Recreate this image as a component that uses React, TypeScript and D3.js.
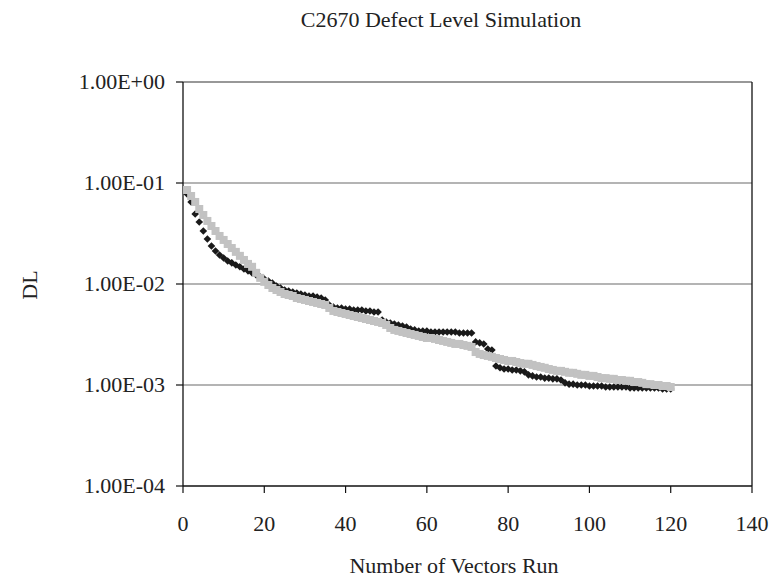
import React from "react";
import * as d3 from "d3";

const title = "C2670 Defect Level Simulation";
const xLabel = "Number of Vectors Run";
const yLabel = "DL";
const xTicks = [0, 20, 40, 60, 80, 100, 120, 140];
const yTicks = [1, 0.1, 0.01, 0.001, 0.0001];
const yTickLabels = ["1.00E+00", "1.00E-01", "1.00E-02", "1.00E-03", "1.00E-04"];

// Series 1 (black diamonds), vectors 1..120
const seriesBlack = [
  0.0778, 0.0649, 0.0493, 0.0411, 0.0335, 0.0279, 0.0238, 0.0212, 0.0194, 0.0181,
  0.0169, 0.0162, 0.0154, 0.0148, 0.0141, 0.0135, 0.0129, 0.0123, 0.0117, 0.0112,
  0.0107, 0.0102, 0.00955, 0.00913, 0.00872, 0.00853, 0.00833, 0.00815, 0.00796, 0.00778,
  0.00761, 0.00761, 0.00744, 0.00727, 0.00695, 0.0062, 0.00592, 0.00579, 0.00579, 0.00566,
  0.00566, 0.00553, 0.00553, 0.00553, 0.00541, 0.00541, 0.00528, 0.00528, 0.0044, 0.00421,
  0.00411, 0.00402, 0.00393, 0.00384, 0.00375, 0.00359, 0.00351, 0.00343, 0.00343, 0.00343,
  0.00335, 0.00335, 0.00335, 0.00335, 0.00335, 0.00335, 0.00335, 0.00327, 0.00327, 0.00327,
  0.00327, 0.00267, 0.00261, 0.00255, 0.00227, 0.00222, 0.00154, 0.00148, 0.00144, 0.00144,
  0.00141, 0.00141, 0.00138, 0.00135, 0.00126, 0.00123, 0.0012, 0.0012, 0.00117, 0.00117,
  0.00115, 0.00115, 0.00112, 0.00105, 0.00102, 0.00102, 0.001, 0.001, 0.001, 0.000978,
  0.000978, 0.000978, 0.000978, 0.000955, 0.000955, 0.000955, 0.000955, 0.000955, 0.000955, 0.000934,
  0.000934, 0.000934, 0.000934, 0.000934, 0.000934, 0.000934, 0.000934, 0.000913, 0.000913, 0.000913,
];

// Series 2 (grey squares), vectors 1..120
const seriesGrey = [
  0.0853, 0.0744, 0.0649, 0.0553, 0.0482, 0.0421, 0.0375, 0.0335, 0.0299, 0.0273,
  0.0249, 0.0227, 0.0208, 0.019, 0.0173, 0.0158, 0.0148, 0.0129, 0.0115, 0.0105,
  0.00978, 0.00913, 0.00872, 0.00833, 0.00796, 0.00778, 0.00761, 0.00727, 0.00711, 0.00695,
  0.00679, 0.00664, 0.00649, 0.00634, 0.0062, 0.00579, 0.00541, 0.00528, 0.00516, 0.00505,
  0.00493, 0.00482, 0.00471, 0.00461, 0.0045, 0.0044, 0.0043, 0.00421, 0.00411, 0.00393,
  0.00367, 0.00351, 0.00343, 0.00335, 0.00327, 0.0032, 0.00313, 0.00306, 0.00299, 0.00292,
  0.00292, 0.00286, 0.00279, 0.00273, 0.00267, 0.00261, 0.00255, 0.00255, 0.00249, 0.00244,
  0.00238, 0.00212, 0.00203, 0.00198, 0.00194, 0.0019, 0.00185, 0.00181, 0.00177, 0.00173,
  0.00173, 0.00169, 0.00165, 0.00162, 0.00162, 0.00158, 0.00154, 0.00151, 0.00148, 0.00144,
  0.00141, 0.00138, 0.00138, 0.00135, 0.00132, 0.00132, 0.00129, 0.00126, 0.00126, 0.00123,
  0.00123, 0.0012, 0.00117, 0.00117, 0.00115, 0.00115, 0.00112, 0.00112, 0.0011, 0.0011,
  0.00107, 0.00107, 0.00105, 0.00102, 0.00102, 0.001, 0.001, 0.000978, 0.000978, 0.000955,
];

const W = 773;
const H = 581;
const left = 183;
const right = 752;
const top = 82;
const bottom = 486;
const font = "'Liberation Serif', 'Times New Roman', Times, serif";
const diamondPath = "M0,-3.8L3.8,0L0,3.8L-3.8,0Z";

export default function App() {
  const x = d3.scaleLinear().domain([0, 140]).range([left, right]);
  const y = d3.scaleLog().domain([1e-4, 1]).range([bottom, top]);
  const square = d3.symbol().type(d3.symbolSquare).size(64)();

  return (
    <svg
      width={W}
      height={H}
      style={{ position: "absolute", left: 0, top: 0, background: "#fff" }}
      fontFamily={font}
    >
      <rect x={0} y={0} width={W} height={H} fill="#fff" />
      {/* gridlines */}
      {yTicks.slice(1, 4).map((t) => (
        <line key={t} x1={left} x2={right} y1={y(t)} y2={y(t)} stroke="#6a6a6a" strokeWidth={1.2} />
      ))}
      <line x1={left} x2={right} y1={y(1)} y2={y(1)} stroke="#333" strokeWidth={1.2} />
      <line x1={right} x2={right} y1={top} y2={bottom} stroke="#111" strokeWidth={1.3} />
      {/* axes */}
      <line x1={left} x2={left} y1={top} y2={bottom} stroke="#111" strokeWidth={1.3} />
      <line x1={left} x2={right} y1={bottom} y2={bottom} stroke="#111" strokeWidth={1.3} />
      {yTicks.map((t, i) => (
        <g key={t}>
          <line x1={left - 7} x2={left} y1={y(t)} y2={y(t)} stroke="#111" strokeWidth={1.2} />
          <text x={165} y={y(t)} dy="0.33em" textAnchor="end" fontSize={22} fill="#222">
            {yTickLabels[i]}
          </text>
        </g>
      ))}
      {xTicks.map((t) => (
        <g key={t}>
          <line x1={x(t)} x2={x(t)} y1={bottom} y2={bottom + 7} stroke="#111" strokeWidth={1.2} />
          <text x={x(t)} y={531} textAnchor="middle" fontSize={22} fill="#222">
            {t}
          </text>
        </g>
      ))}
      {/* series */}
      <g fill="#1a1a1a">
        {seriesBlack.map((v, i) => (
          <path key={i} d={diamondPath} transform={`translate(${x(i + 1)},${y(v)})`} />
        ))}
      </g>
      <g fill="#c2c2c2">
        {seriesGrey.map((v, i) => (
          <path key={i} d={square} transform={`translate(${x(i + 1)},${y(v)})`} />
        ))}
      </g>
      {/* titles */}
      <text x={441} y={27} textAnchor="middle" fontSize={22} fill="#222">
        {title}
      </text>
      <text x={454} y={573} textAnchor="middle" fontSize={22} fill="#222">
        {xLabel}
      </text>
      <text transform="translate(37,285) rotate(-90)" textAnchor="middle" fontSize={22} fill="#222">
        {yLabel}
      </text>
    </svg>
  );
}
